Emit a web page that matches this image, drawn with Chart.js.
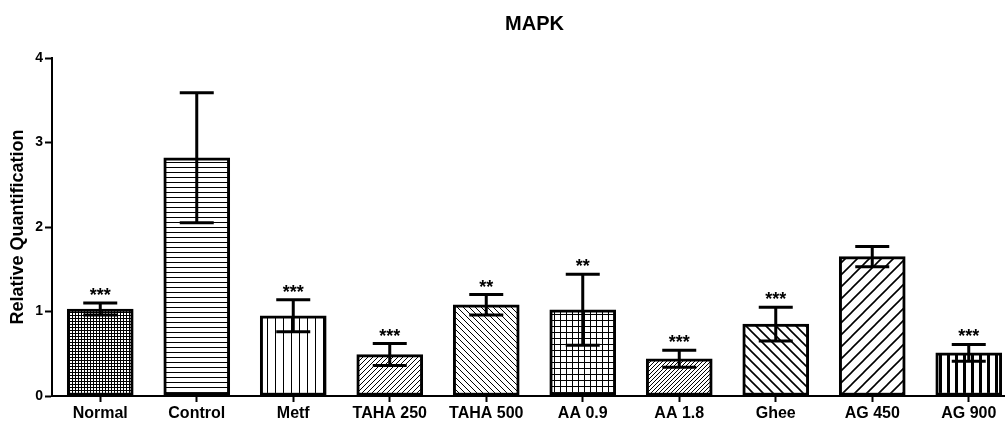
<!DOCTYPE html>
<html>
<head>
<meta charset="utf-8">
<script src="https://cdn.jsdelivr.net/npm/chart.js@4"></script>
<style>
  html, body { margin: 0; padding: 0; background: #fff; overflow: hidden; }
  #wrap { width: 1017px; height: 421px; position: relative; }
</style>
</head>
<body>
<div id="wrap"><canvas id="barChart"></canvas></div>
<script>
const groups = ["Normal", "Control", "Metf", "TAHA 250", "TAHA 500", "AA 0.9", "AA 1.8", "Ghee", "AG 450", "AG 900"];
const means = [1.03, 2.82, 0.95, 0.49, 1.08, 1.02, 0.44, 0.85, 1.65, 0.51];
const errors = [0.07, 0.77, 0.19, 0.13, 0.12, 0.42, 0.10, 0.20, 0.12, 0.10];
const stars = ["***", "", "***", "***", "**", "**", "***", "***", "", "***"];
const yTicks = [0, 1, 2, 3, 4];

const family = "'Liberation Sans', Arial, sans-serif";

function makePattern(size, draw) {
  const c = document.createElement("canvas");
  c.width = size;
  c.height = size;
  const g = c.getContext("2d");
  g.fillStyle = "#fff";
  g.fillRect(0, 0, size, size);
  g.strokeStyle = "#000";
  g.fillStyle = "#000";
  draw(g, size);
  return g.createPattern(c, "repeat");
}

// diagonal hatching, forward = "/" and otherwise "\"
function diag(forward, lw) {
  return function(g, s) {
    g.lineWidth = lw;
    g.beginPath();
    if (forward) {
      g.moveTo(-1, s + 1); g.lineTo(s + 1, -1);
      g.moveTo(-1, 1); g.lineTo(1, -1);
      g.moveTo(s - 1, s + 1); g.lineTo(s + 1, s - 1);
    } else {
      g.moveTo(-1, -1); g.lineTo(s + 1, s + 1);
      g.moveTo(s - 1, -1); g.lineTo(s + 1, 1);
      g.moveTo(-1, s - 1); g.lineTo(1, s + 1);
    }
    g.stroke();
  };
}

const fills = [
  makePattern(3, function(g, s) { g.fillRect(0, 0, s, s); g.fillStyle = "#fff"; g.fillRect(1, 1, 2, 2); }),
  makePattern(5, function(g, s) { g.fillRect(0, 2, s, 1); }),
  makePattern(8, function(g, s) { g.fillRect(3, 0, 1, s); }),
  makePattern(5, diag(true, 1)),
  makePattern(6, diag(false, 1)),
  makePattern(6, function(g, s) { g.fillRect(0, 2, s, 1); g.fillRect(2, 0, 1, s); }),
  makePattern(4, diag(true, 1)),
  makePattern(10, diag(false, 1.6)),
  makePattern(12, diag(true, 1.6)),
  makePattern(8, function(g, s) { g.fillRect(3, 0, 3, s); })
];

const errorBars = {
  id: "errorBars",
  afterDatasetsDraw(chart) {
    const ctx = chart.ctx;
    const y = chart.scales.y;
    const meta = chart.getDatasetMeta(0);
    ctx.save();
    ctx.strokeStyle = "#000";
    ctx.lineWidth = 3;
    ctx.fillStyle = "#000";
    ctx.font = "bold 18px " + family;
    ctx.textAlign = "center";
    ctx.textBaseline = "alphabetic";
    meta.data.forEach(function(bar, i) {
      const top = y.getPixelForValue(means[i] + errors[i]);
      const bot = y.getPixelForValue(means[i] - errors[i]);
      ctx.beginPath();
      ctx.moveTo(bar.x, top); ctx.lineTo(bar.x, bot);
      ctx.moveTo(bar.x - 17, top); ctx.lineTo(bar.x + 17, top);
      ctx.moveTo(bar.x - 17, bot); ctx.lineTo(bar.x + 17, bot);
      ctx.stroke();
      if (stars[i]) ctx.fillText(stars[i], bar.x, top - 2);
    });
    ctx.restore();
  }
};

new Chart(document.getElementById("barChart"), {
  type: "bar",
  data: {
    labels: groups,
    datasets: [{
      data: means,
      backgroundColor: fills,
      borderColor: "#000",
      borderWidth: 3,
      borderSkipped: false,
      barThickness: 66
    }]
  },
  options: {
    responsive: true,
    maintainAspectRatio: false,
    animation: false,
    layout: { padding: 0 },
    plugins: {
      legend: { display: false },
      tooltip: { enabled: false },
      title: {
        display: true,
        text: "MAPK",
        fullSize: false,
        color: "#000",
        font: { family: family, size: 20, weight: "bold" },
        padding: { top: 12, bottom: 22 }
      }
    },
    scales: {
      x: {
        grid: { display: true, drawOnChartArea: false, offset: false, tickLength: 6, tickColor: "#000", tickWidth: 2 },
        border: { display: true, color: "#000", width: 2 },
        ticks: { color: "#000", font: { family: family, size: 16, weight: "bold" }, padding: 2, maxRotation: 0, autoSkip: false },
        afterFit(scale) { scale.height = 25; }
      },
      y: {
        min: 0,
        max: 4,
        afterBuildTicks(scale) { scale.ticks = yTicks.map(v => ({ value: v })); },
        grid: { display: true, drawOnChartArea: false, tickLength: 7, tickColor: "#000", tickWidth: 2 },
        border: { display: true, color: "#000", width: 2 },
        ticks: { color: "#000", font: { family: family, size: 14, weight: "bold" }, padding: 2 },
        title: {
          display: true,
          text: "Relative Quantification",
          color: "#000",
          font: { family: family, size: 18, weight: "bold" },
          padding: { top: 7, bottom: 0 }
        },
        afterFit(scale) { scale.width = 52; }
      }
    }
  },
  plugins: [errorBars]
});
</script>
</body>
</html>
